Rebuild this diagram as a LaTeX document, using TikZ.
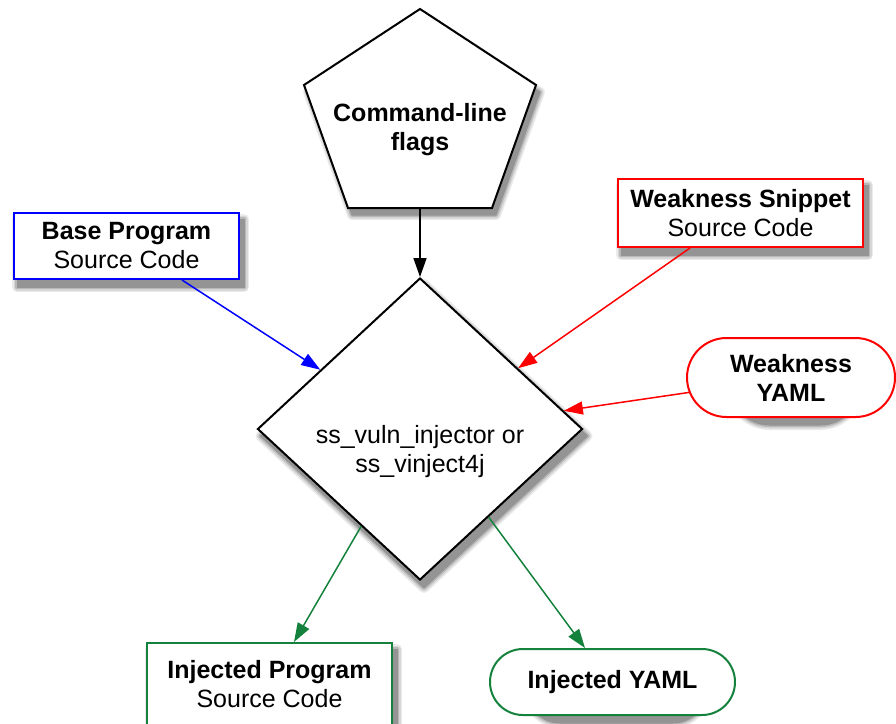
\documentclass[tikz,border=0pt]{standalone}
\usepackage{fontspec}
\setmainfont{Liberation Sans}
\usetikzlibrary{arrows.meta,shapes.geometric,shapes.misc,calc}
\definecolor{myblue}{RGB}{0,0,255}
\definecolor{myred}{RGB}{255,0,0}
\definecolor{mygreen}{RGB}{20,130,60}
\pgfdeclarelayer{background}
\pgfsetlayers{background,main}
\begin{document}
\begin{tikzpicture}[x=1pt,y=-1pt,
  font=\fontsize{25}{29}\selectfont,
  box/.style={rectangle,draw=#1,line width=2pt,fill=white,align=center,inner sep=0pt},
  pill/.style={rounded rectangle,draw=#1,line width=2pt,fill=white,align=center,inner sep=0pt},
  conn/.style={draw=#1,line width=1.5pt,-{Triangle[length=19pt,width=13pt]}},
  shadlayer/.style={fill=black!#1,draw=black!#1,line join=round},
]
\useasboundingbox (0,0) rectangle (896,723);
% pentagon
\draw[line width=2pt,fill=white] (420,9) -- (536,85) -- (492,208) -- (348,208) -- (304,85) -- cycle;
\node[font=\fontsize{25}{29}\selectfont\bfseries,align=center] (flags) at (420,130) {Command-line\\flags};
\coordinate (flagsb) at (420,208);
% diamond
\node[diamond,draw,line width=2pt,fill=white,minimum width=325pt,minimum height=302pt,inner sep=0pt] (inj) at (420,429) {};
\node[align=center] (injtxt) at (420,452) {ss\_vuln\_injector or\\ss\_vinject4j};
% boxes
\node[box=myblue,minimum width=225pt,minimum height=66pt] (base) at (126.5,246) {\textbf{Base Program}\\Source Code};
\node[box=myred,minimum width=245pt,minimum height=68pt] (snip) at (740.5,213) {\textbf{Weakness Snippet}\\Source Code};
\node[pill=myred,minimum width=208pt,minimum height=79pt,font=\fontsize{25}{29}\selectfont\bfseries] (wyaml) at (791,377.5) {Weakness\\YAML};
\node[box=mygreen,minimum width=245pt,minimum height=82pt] (injp) at (269.5,684) {\textbf{Injected Program}\\Source Code};
\node[pill=mygreen,minimum width=245pt,minimum height=66pt,font=\fontsize{25}{29}\selectfont\bfseries] (injy) at (612.5,682) {Injected YAML};
% shadows
\begin{pgfonlayer}{background}
\foreach \c/\w in {8/10, 16/7, 28/4, 42/1} {
  \begin{scope}[shift={(4,7)}]
    \draw[shadlayer=\c,line width=\w pt] (420,9) -- (536,85) -- (492,208) -- (348,208) -- (304,85) -- cycle;
  \end{scope}
  \draw[shadlayer=\c,line width=\w pt] ([shift={(4,7)}]inj.north) -- ([shift={(4,7)}]inj.east) -- ([shift={(4,7)}]inj.south) -- ([shift={(4,7)}]inj.west) -- cycle;
  \foreach \n in {base,snip,injp} {
    \draw[shadlayer=\c,line width=\w pt] ([shift={(4,7)}]\n.north west) rectangle ([shift={(4,7)}]\n.south east);
  }
  \draw[shadlayer=\c,line width=\w pt,rounded corners=39pt] ([shift={(4,7)}]wyaml.north west) rectangle ([shift={(4,7)}]wyaml.south east);
  \draw[shadlayer=\c,line width=\w pt,rounded corners=33pt] ([shift={(4,7)}]injy.north west) rectangle ([shift={(4,7)}]injy.south east);
}
\end{pgfonlayer}
% connectors
\draw[conn=black] (flagsb) -- (inj.north);
\draw[conn=myblue] ([xshift=55.5pt]base.south) -- ($(inj.west)!0.39!(inj.north)$);
\draw[conn=myred] ([xshift=-50.5pt]snip.south) -- ($(inj.north)!0.6!(inj.east)$);
\draw[conn=myred] (wyaml) -- ($(inj.north)!0.88!(inj.east)$);
\draw[conn=mygreen] ($(inj.west)!0.64!(inj.south)$) -- ([xshift=24.5pt]injp.north);
\draw[conn=mygreen] ($(inj.south)!0.42!(inj.east)$) -- ([xshift=-27.5pt]injy.north);
\end{tikzpicture}
\end{document}
